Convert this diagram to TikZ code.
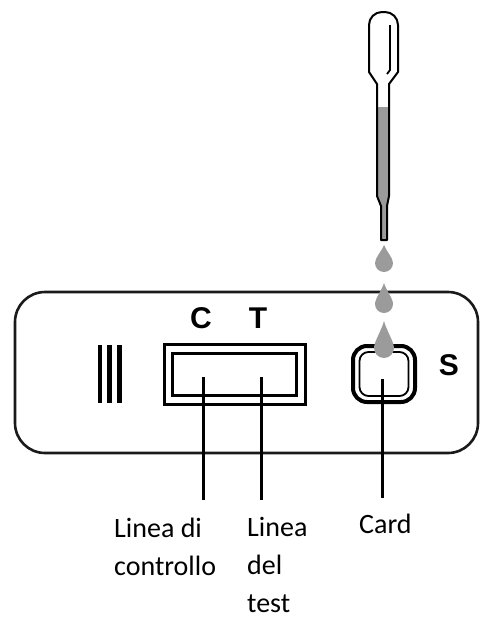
\documentclass[tikz,border=0pt]{standalone}
\usepackage{fontspec}
\setmainfont{Carlito}
\newfontfamily\markfont{Liberation Sans}
\definecolor{liquid}{HTML}{9B9B9B}
\definecolor{ink}{HTML}{1A1A1A}
% teardrop: centre x, tip y, bottom y, half width
\newcommand\liqdrop[4]{%
  \fill[liquid] (#1,#2)
    .. controls ({#1+0.25*#4},{#2+0.35*(#3-#2-#4)}) and ({#1+#4},{#3-1.6*#4}) .. ({#1+#4},{#3-#4})
    .. controls ({#1+#4},{#3-0.45*#4}) and ({#1+0.55*#4},#3) .. (#1,#3)
    .. controls ({#1-0.55*#4},#3) and ({#1-#4},{#3-0.45*#4}) .. ({#1-#4},{#3-#4})
    .. controls ({#1-#4},{#3-1.6*#4}) and ({#1-0.25*#4},{#2+0.35*(#3-#2-#4)}) .. cycle;}
\begin{document}
\begin{tikzpicture}[x=1pt,y=-1pt,
  cardline/.style={draw=ink,line width=2.6pt,rounded corners=30pt},
  boxline/.style={draw=black,line width=3pt},
  leader/.style={draw=black,line width=3pt},
  letter/.style={font=\markfont\bfseries\fontsize{30}{32}\selectfont,inner sep=0pt,anchor=base},
  label/.style={font=\fontsize{28}{38}\selectfont,inner sep=0pt,align=left,anchor=base west},
  pip/.style={draw=black,line width=2pt,line join=round}]
\useasboundingbox (0,0) rectangle (481,619);
\fill[white] (0,0) rectangle (481,619);

% card body
\draw[cardline] (15,292) rectangle (478,453);

% barcode
\fill[black] (98,345) rectangle (102,403);
\fill[black] (107,345) rectangle (111.5,403);
\fill[black] (117,345) rectangle (122,403);

% result window
\draw[boxline] (164,344) rectangle (305,404);
\draw[boxline] (172.5,353) rectangle (296.5,395);

% sample well
\draw[draw=black,line width=4pt,rounded corners=14pt] (353,346) rectangle (415,402);
\draw[draw=black,line width=1.8pt,rounded corners=9pt] (359.5,352) rectangle (408.5,396);

% pipette
\fill[liquid] (377,107) -- (389,107) -- (389,196) -- (387,206) -- (387,240) -- (381,240) -- (381,206) -- (377,196) -- cycle;
\draw[pip] (377,196) -- (377,84) -- (369,72) -- (369,40)
  {[rounded corners=13pt] -- (369,12) -- (398,12) -- (398,40)}
  -- (398,72) -- (389,84) -- (389,196) -- (387,206) -- (387,240)
  -- (381,240) -- (381,206) -- cycle;
\draw[black,line width=1.8pt] (390,25) -- (390,70) -- (387,74);

% falling drops
\liqdrop{384}{245}{272}{9}
\liqdrop{384}{283}{313}{9}
\liqdrop{384}{321}{358}{10}

% letters on the card
\node[letter] (c) at (201,328) {C};
\node[letter] (t) at (258,328) {T};
\node[letter] (s) at (449,375) {S};

% labels (anchored at the baseline of their last line)
\node[label] (ctrl) at (114,575) {Linea di\\controllo};
\node[label] (test) at (247,612) {Linea\\del\\test};
\node[label] (card) at (359,533) {Card};

% leader lines
\coordinate (ctop) at (203,377);
\coordinate (cend) at (203,500);
\coordinate (ttop) at (261,377);
\coordinate (tend) at (261,500);
\coordinate (wtop) at (382,379);
\coordinate (wend) at (382,498);
\draw[leader] (ctop) -- (cend);
\draw[leader] (ttop) -- (tend);
\draw[leader] (wtop) -- (wend);
\end{tikzpicture}
\end{document}
